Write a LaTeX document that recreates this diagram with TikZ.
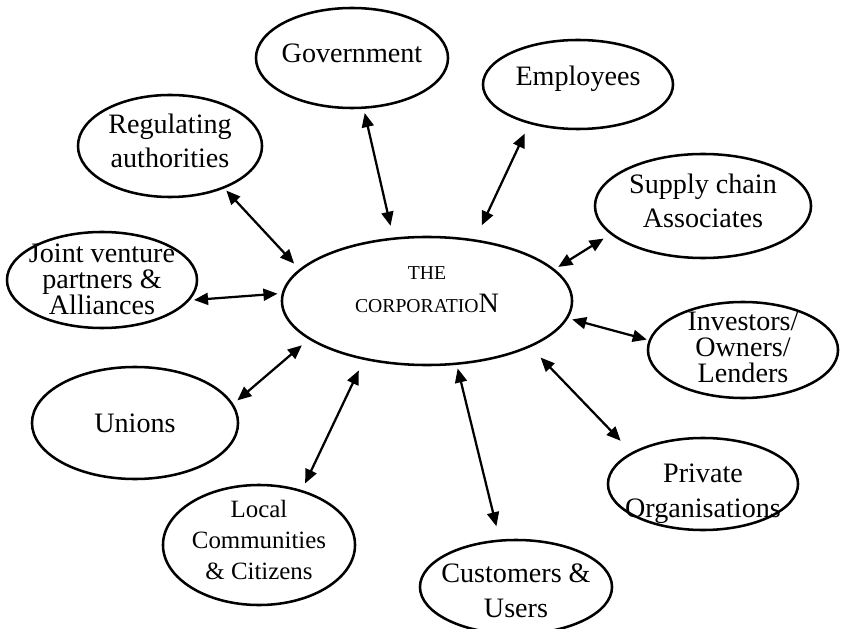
\documentclass[tikz,border=0pt]{standalone}
\usepackage{fontspec}
\setmainfont{Liberation Serif}
\usetikzlibrary{arrows.meta}
\usetikzlibrary{shapes.geometric}

\begin{document}
\begin{tikzpicture}[x=0.025cm, y=-0.025cm,
    party/.style={ellipse, draw, line width=1.8pt, inner sep=0pt},
    tag/.style={align=center, font=\fontsize{20}{24.8}\selectfont},
    tight/.style={align=center, font=\fontsize{20}{18.6}\selectfont},
    tie/.style={>={Triangle[length=10pt, width=8.5pt]}, <->, line width=1.6pt, shorten <=3pt, shorten >=3pt}]
    \useasboundingbox (0,0) rectangle (841,629);

    % the corporation in the middle
    \node[party, minimum width=7.25cm, minimum height=3.2cm, label={[align=center, font=\fontsize{14}{23.4}\selectfont, yshift=7.8pt]center:{THE\\CORPORATIO{\fontsize{20}{23.4}\selectfont N}}}] (corp) at (427,301) {};

    % stakeholders around it
    \node[party, minimum width=4.8cm, minimum height=2.5cm, label={[tag, yshift=3.5pt]center:Government}] (gov) at (352,58) {};
    \node[party, minimum width=4.75cm, minimum height=2.225cm, label={[tag, yshift=4.3pt]center:Employees}] (emp) at (578,84.5) {};
    \node[party, minimum width=4.6cm, minimum height=2.55cm, label={[tag, yshift=3.6pt]center:{Regulating\\authorities}}] (reg) at (170,146) {};
    \node[party, minimum width=5.4cm, minimum height=2.6cm, label={[tag, yshift=3.6pt]center:{Supply chain\\Associates}}] (sup) at (703,206) {};
    \node[party, minimum width=4.75cm, minimum height=2.4cm, label={[tight, yshift=0.7pt]center:{Joint venture\\partners \&\\Alliances}}] (joint) at (102,280) {};
    \node[party, minimum width=5.15cm, minimum height=2.8cm, label={[tag]center:Unions}] (unions) at (135,423) {};
    \node[party, minimum width=4.75cm, minimum height=2.4cm, label={[tight, yshift=1.8pt]center:{Investors/\\Owners/\\Lenders}}] (inv) at (743,350) {};
    \node[party, minimum width=4.75cm, minimum height=2.3cm, label={[tag, yshift=-6.7pt]center:{Private\\Organisations}}] (priv) at (703,484) {};
    \node[party, minimum width=4.8cm, minimum height=2.35cm, label={[tag, yshift=-2.7pt]center:{Customers \&\\Users}}] (cust) at (516,587) {};
    \node[party, minimum width=4.8cm, minimum height=3cm, label={[align=center, font=\fontsize{17.7}{22.3}\selectfont, yshift=3.5pt]center:{Local\\Communities\\\& Citizens}}] (local) at (259,545) {};

    % two-way links to the corporation
    \draw[tie, shorten >=8.5pt] (gov.283.5) -- (corp.118.7);
    \draw[tie, shorten <=7.5pt, shorten >=11pt] (emp.219.6) -- (corp.52.5);
    \draw[tie, shorten <=2pt, shorten >=5.4pt] (reg.322) -- (corp.166.2);
    \draw[tie, shorten <=5.7pt] (sup.197.6) -- (corp.14.7);
    \draw[tie] (joint.347.9) -- (corp.177.7);
    \draw[tie, shorten <=1.4pt] (inv.174) -- (corp.353.7);
    \draw[tie, shorten <=11.3pt, shorten >=10.3pt] (priv.156.7) -- (corp.336.3);
    \draw[tie, shorten <=9.6pt, shorten >=2.6pt] (cust.109.6) -- (corp.295.2);
    \draw[tie, shorten <=5.2pt, shorten >=8.3pt] (local.52.5) -- (corp.223.3);
    \draw[tie, shorten <=3.8pt, shorten >=6.4pt] (unions.11.1) -- (corp.198.2);
\end{tikzpicture}
\end{document}
